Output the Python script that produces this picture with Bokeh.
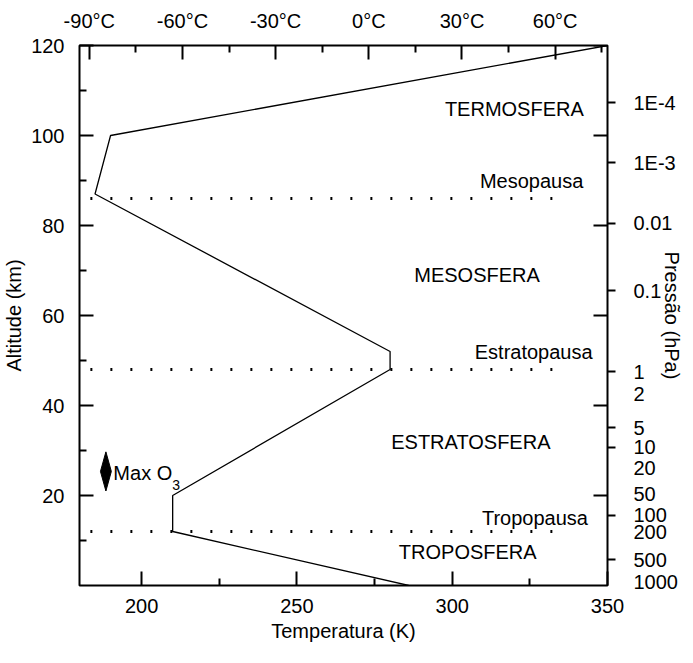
import math
from bokeh.plotting import figure
from bokeh.models import Range1d, LinearAxis, FixedTicker, PrintfTickFormatter
from bokeh.core.properties import value
from bokeh.embed import file_html
from bokeh.resources import INLINE

# ---- data ----
profile_temp_k = [286, 210, 210, 280, 280, 185, 190, 350]
profile_alt_km = [0, 12, 20, 48, 52, 87, 100, 120]

pause_names = ["Tropopausa", "Estratopausa", "Mesopausa"]
pause_alt_km = [12, 48, 86]
pause_line_from_k = 183.5
pause_line_to_k = 336.0
pause_label_k = [343.7, 345.2, 342.2]
pause_label_alt = [15.0, 52.0, 89.8]

layer_names = ["TROPOSFERA", "ESTRATOSFERA", "MESOSFERA", "TERMOSFERA"]
layer_label_k = [305, 306, 308, 320]
layer_label_alt = [7.5, 31.8, 69.0, 105.8]

o3_label = "Max O"
o3_sub = "3"
o3_max_temp_k = 188.5
o3_max_alt_bottom = 21.0
o3_max_alt_top = 29.7
o3_label_k = 190.9
o3_label_alt = 24.9
o3_sub_k = 209.9
o3_sub_alt = 22.4

temp_ticks_k = [200, 250, 300, 350]
temp_minor_k = [225, 275, 325]
temp_ticks_c = [-90, -60, -30, 0, 30, 60]
temp_minor_c = [-75, -45, -15, 15, 45, 75]
alt_ticks = [20, 40, 60, 80, 100, 120]
alt_minor = [10, 30, 50, 70, 90, 110]

pressure_labels = ["1E-4", "1E-3", "0.01", "0.1", "1", "2", "5", "10", "20", "50", "100", "200", "500", "1000"]
pressure_alt_km = [107.3, 94.0, 80.5, 65.5, 47.5, 42.5, 35.1, 30.7, 26.2, 20.3, 15.6, 11.8, 5.7, 0.7]
pressure_ticked = ["1E-4", "1E-3", "0.01", "0.1", "1", "5", "10", "100", "500"]

t_min_k, t_max_k = 180, 350
alt_min, alt_max = 0, 120
K0 = 273.15

FONT = "Liberation Sans"
FS = "20px"

p = figure(width=685, height=655,
           x_range=Range1d(t_min_k, t_max_k), y_range=Range1d(alt_min, alt_max),
           output_backend="svg", toolbar_location=None,
           min_border_left=76, min_border_right=76, min_border_top=45, min_border_bottom=70)
p.extra_x_ranges = {"c": Range1d(t_min_k - K0, t_max_k - K0)}
p.xgrid.visible = False
p.ygrid.visible = False
p.outline_line_color = "black"
p.outline_line_width = 2
p.background_fill_color = "white"
p.border_fill_color = "white"

def style_axis(ax):
    ax.axis_line_color = None
    ax.major_tick_line_color = "black"
    ax.minor_tick_line_color = "black"
    ax.major_tick_line_width = 2
    ax.minor_tick_line_width = 2
    ax.major_label_text_font = FONT
    ax.major_label_text_font_size = FS
    ax.major_label_text_color = "black"
    ax.axis_label_text_font = FONT
    ax.axis_label_text_font_size = FS
    ax.axis_label_text_font_style = "normal"
    ax.axis_label_text_color = "black"

# bottom axis (K)
xb = p.xaxis[0]
style_axis(xb)
xb.ticker = FixedTicker(ticks=temp_ticks_k, minor_ticks=temp_minor_k)
xb.major_tick_in = 14
xb.major_tick_out = 0
xb.minor_tick_in = 7
xb.minor_tick_out = 0
xb.major_label_standoff = 13
xb.axis_label = "Temperatura (K)"
xb.axis_label_standoff = 4

# left axis (km)
yl = p.yaxis[0]
style_axis(yl)
yl.ticker = FixedTicker(ticks=alt_ticks, minor_ticks=alt_minor)
yl.major_tick_in = 14
yl.major_tick_out = 0
yl.minor_tick_in = 7
yl.minor_tick_out = 0
yl.major_label_standoff = 15
yl.axis_label = "Altitude (km)"
yl.axis_label_standoff = 3

# top axis (°C)
xt = LinearAxis(x_range_name="c", ticker=FixedTicker(ticks=temp_ticks_c, minor_ticks=temp_minor_c),
                formatter=PrintfTickFormatter(format="%d°C"))
style_axis(xt)
xt.major_tick_in = 14
xt.major_tick_out = 0
xt.minor_tick_in = 7
xt.minor_tick_out = 0
xt.major_label_standoff = 14
p.add_layout(xt, "above")

# right pressure axis
ticked_alt = [a for a, l in zip(pressure_alt_km, pressure_labels) if l in pressure_ticked]
yp = LinearAxis(ticker=FixedTicker(ticks=pressure_alt_km, minor_ticks=ticked_alt))
style_axis(yp)
yp.major_tick_line_color = None
yp.major_tick_in = 0
yp.major_tick_out = 8
yp.minor_tick_in = 0
yp.minor_tick_out = 8
yp.major_label_standoff = 18
yp.major_label_overrides = {a: l for a, l in zip(pressure_alt_km, pressure_labels)}
yp.axis_label = "Pressão (hPa)"
yp.axis_label_standoff = -20
p.add_layout(yp, "right")

# mirrored altitude ticks on the right edge (inward)
p.ray(x=[t_max_k] * len(alt_ticks), y=alt_ticks, length=14, length_units="screen",
      angle=math.pi, line_color="black", line_width=2)

# temperature profile
p.line(profile_temp_k, profile_alt_km, line_color="black", line_width=1.3)

# pause dotted lines
for a in pause_alt_km:
    p.line([pause_line_from_k, pause_line_to_k], [a, a], line_color="black",
           line_width=3, line_dash="2 18")

# labels
p.text(x=layer_label_k, y=layer_label_alt, text=layer_names, text_font=value(FONT),
       text_font_size=FS, text_align="center", text_baseline="middle", text_color="black")
p.text(x=pause_label_k, y=pause_label_alt, text=pause_names, text_font=value(FONT),
       text_font_size=FS, text_align="right", text_baseline="middle", text_color="black")

# ozone max marker
mid = (o3_max_alt_bottom + o3_max_alt_top) / 2
hw = 1.75
p.patch([o3_max_temp_k, o3_max_temp_k + hw, o3_max_temp_k, o3_max_temp_k - hw],
        [o3_max_alt_top, mid, o3_max_alt_bottom, mid], fill_color="black", line_color="black")
p.text(x=[o3_label_k], y=[o3_label_alt], text=[o3_label], text_font=value(FONT),
       text_font_size=FS, text_align="left", text_baseline="middle", text_color="black")
p.text(x=[o3_sub_k], y=[o3_sub_alt], text=[o3_sub], text_font=value(FONT),
       text_font_size="14px", text_align="left", text_baseline="middle", text_color="black")

open("out.html", "w").write(file_html(p, INLINE))
